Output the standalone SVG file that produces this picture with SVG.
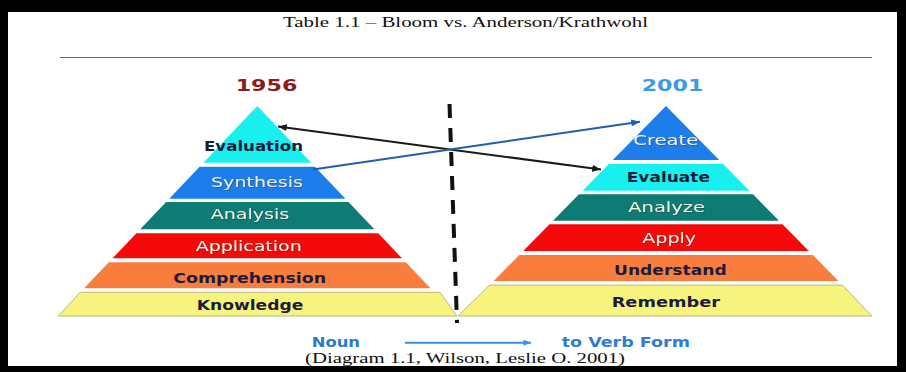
<svg xmlns="http://www.w3.org/2000/svg" width="906" height="372" viewBox="0 0 906 372">
<defs>
<style>
.lbl{font-family:"DejaVu Sans","Liberation Sans",sans-serif;font-size:14px}
.dk{fill:#1b1b3b;font-weight:bold}
.lt{fill:#eef2e4;filter:url(#sh)}
.yr{font-family:"DejaVu Sans","Liberation Sans",sans-serif;font-size:15.5px;font-weight:bold}
.serif{font-family:"Liberation Serif","Times New Roman",serif;font-size:15px;fill:#111}
.cy{fill:#18f0f0}.bl{fill:#1c7deb}.tl{fill:#0e7b74}.rd{fill:#f40a0a}.or{fill:#f97e3e}.ye{fill:#f7f47e;stroke:#a8a870;stroke-width:0.8}
.conn{fill:none;stroke-width:2}
</style>
<filter id="sh" x="-5%" y="-20%" width="110%" height="140%"><feDropShadow dx="0.7" dy="0.7" stdDeviation="0.3" flood-color="#333" flood-opacity="0.6"/></filter>
<marker id="ahK" viewBox="0 0 10 8" refX="10" refY="4" markerWidth="9" markerHeight="7" markerUnits="userSpaceOnUse" orient="auto-start-reverse"><path d="M0,0 L10,4 L0,8 z" fill="#1a1a1a"/></marker>
<marker id="ahB" viewBox="0 0 10 8" refX="10" refY="4" markerWidth="10" markerHeight="7" markerUnits="userSpaceOnUse" orient="auto"><path d="M0,0 L10,4 L0,8 z" fill="#1f5fb0"/></marker>
<marker id="ahL" viewBox="0 0 10 8" refX="10" refY="4" markerWidth="10" markerHeight="6" markerUnits="userSpaceOnUse" orient="auto"><path d="M0,0 L10,4 L0,8 z" fill="#3d8fe0"/></marker>
</defs>
<rect x="0" y="0" width="906" height="372" fill="#000"/>
<rect x="8" y="12" width="889" height="354" fill="#fff"/>
<text class="serif" x="283" y="27" textLength="365" lengthAdjust="spacingAndGlyphs">Table 1.1 – Bloom vs. Anderson/Krathwohl</text>
<line x1="60" y1="57.5" x2="872" y2="57.5" stroke="#666" stroke-width="1"/>
<text class="yr" x="235.7" y="90.7" fill="#8e1b1b" textLength="61.6" lengthAdjust="spacingAndGlyphs">1956</text>
<text class="yr" x="641.7" y="90.7" fill="#3d9ae8" textLength="61.6" lengthAdjust="spacingAndGlyphs">2001</text>
<g id="bloom-evaluation"><polygon class="cy" points="257.3,106 311.2,162.7 203.4,162.7"/><text class="lbl dk" x="204" y="151" textLength="99" lengthAdjust="spacingAndGlyphs">Evaluation</text></g>
<g id="bloom-synthesis"><polygon class="bl" points="199.6,166.7 315,166.7 345.4,198.7 169.2,198.7"/><text class="lbl lt" x="211" y="187.3" textLength="92" lengthAdjust="spacingAndGlyphs">Synthesis</text></g>
<g id="bloom-analysis"><polygon class="tl" points="166.1,202 348.5,202 374.4,229.3 140.2,229.3"/><text class="lbl lt" x="210.7" y="219" textLength="78.6" lengthAdjust="spacingAndGlyphs">Analysis</text></g>
<g id="bloom-application"><polygon class="rd" points="136.4,233.3 378.2,233.3 402,258.3 112.6,258.3"/><text class="lbl lt" x="195.7" y="250.5" textLength="106" lengthAdjust="spacingAndGlyphs">Application</text></g>
<g id="bloom-comprehension"><polygon class="or" points="108.8,262.3 405.8,262.3 430.5,288.3 84.1,288.3"/><text class="lbl dk" x="173.3" y="283.3" textLength="152.7" lengthAdjust="spacingAndGlyphs">Comprehension</text></g>
<g id="bloom-knowledge"><polygon class="ye" points="80.3,292.3 440,292.3 457,316 58.3,316"/><text class="lbl dk" x="196.7" y="310" textLength="106.6" lengthAdjust="spacingAndGlyphs">Knowledge</text></g>
<g id="ak-create"><polygon class="bl" points="666,106 719.2,160 612.8,160"/><text class="lbl lt" x="633.3" y="145.3" textLength="65" lengthAdjust="spacingAndGlyphs">Create</text></g>
<g id="ak-evaluate"><polygon class="cy" points="608.9,164 723.1,164 749.4,190.7 582.6,190.7"/><text class="lbl dk" x="626.7" y="181.5" textLength="83.3" lengthAdjust="spacingAndGlyphs">Evaluate</text></g>
<g id="ak-analyze"><polygon class="tl" points="579,194.3 753,194.3 779,220.7 553,220.7"/><text class="lbl lt" x="628.3" y="211.7" textLength="76.7" lengthAdjust="spacingAndGlyphs">Analyze</text></g>
<g id="ak-apply"><polygon class="rd" points="549.5,224.3 782.5,224.3 808.8,251 523.2,251"/><text class="lbl lt" x="642.3" y="243.3" textLength="53.7" lengthAdjust="spacingAndGlyphs">Apply</text></g>
<g id="ak-understand"><polygon class="or" points="519.2,255 812.8,255 838.4,281 493.6,281"/><text class="lbl dk" x="614" y="275" textLength="112.7" lengthAdjust="spacingAndGlyphs">Understand</text></g>
<g id="ak-remember"><polygon class="ye" points="489.7,285 842.3,285 871.9,316 458,316"/><text class="lbl dk" x="611.7" y="306.8" textLength="108.3" lengthAdjust="spacingAndGlyphs">Remember</text></g>
<g id="divider"><line x1="449.5" y1="104" x2="457" y2="323" stroke="#111" stroke-width="4" stroke-dasharray="14 10"/></g>
<g id="connectors">
<line class="conn" x1="278" y1="126.5" x2="601" y2="169.5" stroke="#1a1a1a" marker-start="url(#ahK)" marker-end="url(#ahK)"/>
<line class="conn" x1="313" y1="169.5" x2="640" y2="121.7" stroke="#1f5fb0" marker-end="url(#ahB)"/>
<line class="conn" x1="405" y1="342.7" x2="531" y2="342.7" stroke="#3d8fe0" stroke-width="1.8" marker-end="url(#ahL)"/>
</g>
<text class="lbl" x="311.7" y="346.7" fill="#2e78cc" font-weight="bold" textLength="48.3" lengthAdjust="spacingAndGlyphs">Noun</text>
<text class="lbl" x="561.7" y="346.7" fill="#2f7dd0" font-weight="bold" textLength="128.3" lengthAdjust="spacingAndGlyphs">to Verb Form</text>
<text class="serif" x="305" y="362.7" textLength="320" lengthAdjust="spacingAndGlyphs">(Diagram 1.1, Wilson, Leslie O. 2001)</text>
</svg>
